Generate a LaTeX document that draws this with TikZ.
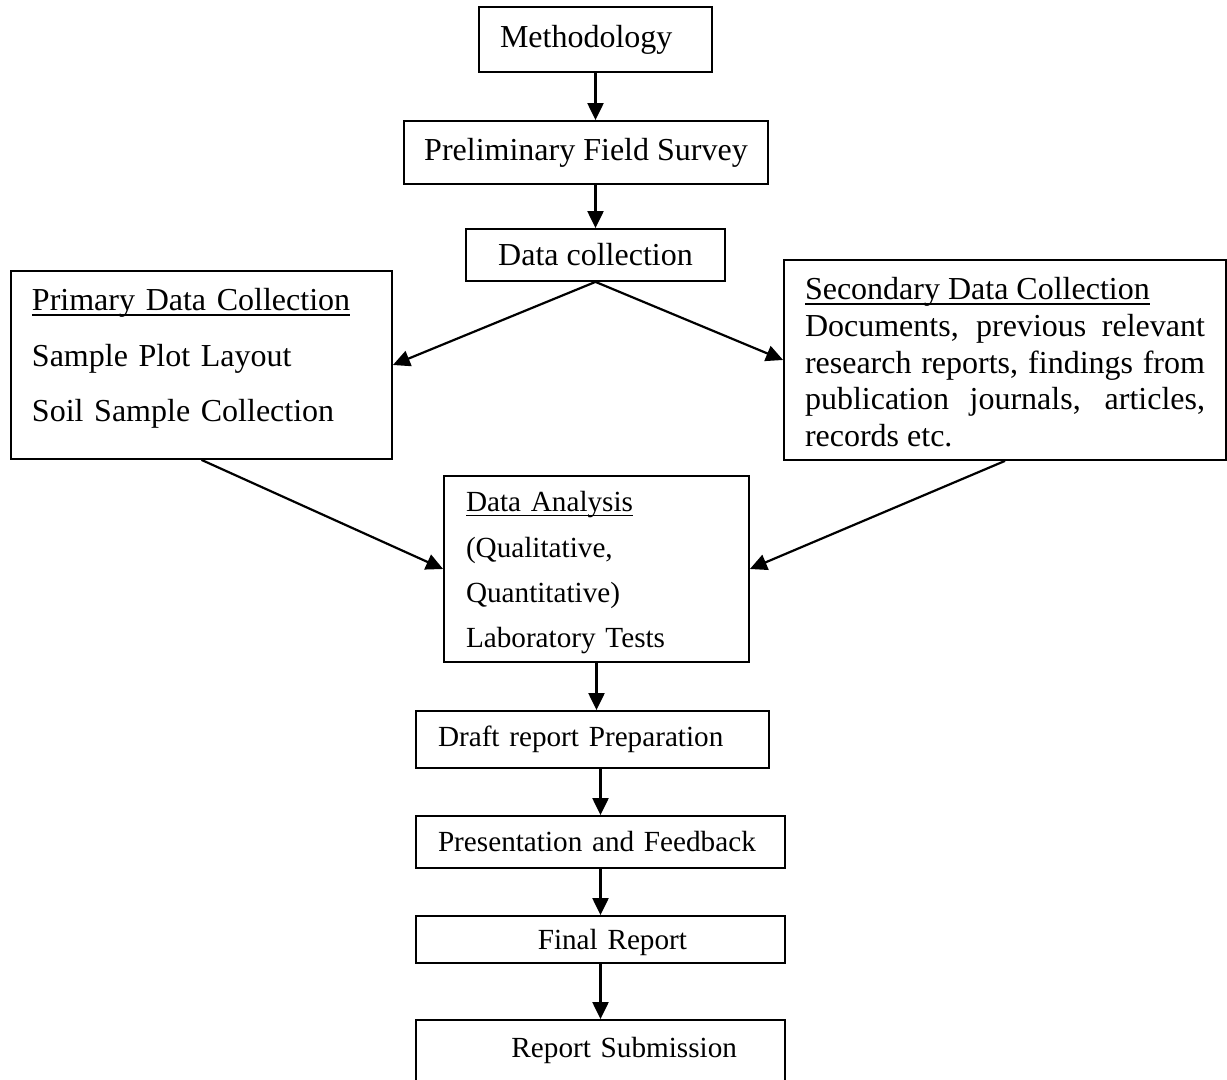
\documentclass[tikz,border=0pt]{standalone}
\usepackage{fontspec}
\setmainfont{Liberation Serif}
\usetikzlibrary{arrows.meta}

% underlined heading line
\newcommand{\hdr}[1]{\leavevmode\setbox0\hbox{#1}\rlap{\rule[-2.4pt]{\wd0}{0.8pt}}\box0}
\hyphenpenalty=10000

\begin{document}
\begin{tikzpicture}[x=0.5pt,y=-0.5pt]
\tikzstyle{every node}=[font=\fontsize{16pt}{19pt}\selectfont]
\tikzstyle{box}=[draw, line width=0.9pt, inner ysep=0pt]
\tikzstyle{small}=[font=\fontsize{14.6pt}{22.7pt}\selectfont]
\tikzstyle{arr}=[line width=1.1pt, -{Triangle[length=8.5pt,width=8pt]}]

% page frame
\useasboundingbox (0,0) rectangle (1227,1080);
\clip (0,0) rectangle (1227,1080);

% top chain
\node[box, minimum width=116.5pt, minimum height=32.5pt, inner xsep=10.5pt, text width=95.5pt, align=left] (meth) at (595.5,39.5) {Methodology};
\node[box, minimum width=182pt, minimum height=31.5pt] (prelim) at (586,152.5) {Preliminary Field Survey};
\node[box, minimum width=129.5pt, minimum height=26pt] (dc) at (595.5,255) {Data collection};

% primary and secondary data
\node[box, minimum width=190.5pt, minimum height=94pt, inner xsep=10.5pt, text width=169.5pt, align=left, text height=11pt, text depth=65pt, font=\fontsize{16pt}{27.7pt}\selectfont] (prim) at (201.5,365)
  {\hdr{Primary Data Collection}\\ Sample Plot Layout\\ Soil Sample Collection};
\node[box, minimum width=221pt, minimum height=100pt, inner xsep=10.5pt, text width=200pt, align=justify, text height=11pt, text depth=71pt, font=\fontsize{16pt}{18.3pt}\selectfont] (sec) at (1005,360)
  {\hdr{Secondary Data Collection}\\ Documents, previous relevant research reports, findings from publication journals, articles, records etc.};

% analysis
\node[box, small, minimum width=152.5pt, minimum height=93pt, inner xsep=11pt, text width=130.5pt, align=left, text height=10pt, text depth=67.3pt] (da) at (596.5,569)
  {\hdr{Data Analysis}\\ (Qualitative,\\ Quantitative)\\ Laboratory Tests};

% bottom chain
\node[box, small, minimum width=176.5pt, minimum height=28.5pt, inner xsep=11pt, text width=154.5pt, align=left] (draft) at (592.5,739.5) {Draft report Preparation};
\node[box, small, minimum width=184.5pt, minimum height=26pt, inner xsep=11pt, text width=162.5pt, align=left] (pres) at (600.5,842) {Presentation and Feedback};
\node[box, small, minimum width=184.5pt, minimum height=23.5pt, inner xsep=49pt, text width=86.5pt, align=right, text depth=0pt] (final) at (600.5,939.5) {Final Report};
\node[box, small, minimum width=184.5pt, minimum height=40pt, inner xsep=24pt, text width=136.5pt, align=right, text depth=13pt] (sub) at (600.5,1060) {Report Submission};

% arrows
\draw[arr] (meth.south) -- (meth.south |- prelim.north);
\draw[arr] (dc.north |- prelim.south) -- (dc.north);
\draw[arr] (dc.south) -- (prim.east);
\draw[arr] (dc.south) -- (sec.west);
\draw[arr] (prim.south) -- (da.west);
\draw[arr] (sec.south) -- (da.east);
\draw[arr] (da.south) -- (da.south |- draft.north);
\draw[arr] (pres.north |- draft.south) -- (pres.north);
\draw[arr] (pres.south) -- (final.north);
\draw[arr] (final.south) -- (sub.north);

\end{tikzpicture}
\end{document}
